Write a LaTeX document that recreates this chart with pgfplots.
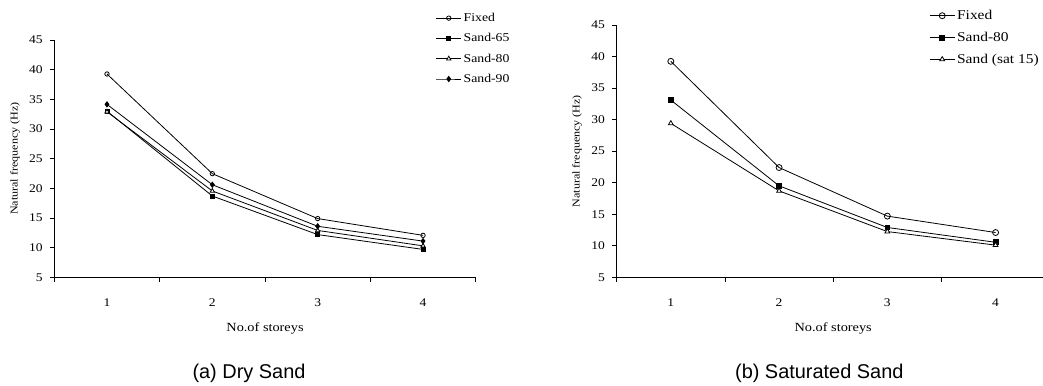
\documentclass[border=0pt]{standalone}
\usepackage{pgfplots}
\pgfplotsset{compat=1.18}
\usepackage{fontspec}
\setmainfont{Liberation Serif}[FakeStretch=1.15]
\newfontfamily\arialf{Liberation Sans}
\pgfplotsset{
  myaxis/.style={
    scale only axis,
    anchor=south west,
    axis lines=left,
    axis line style={-, line width=0.9bp, black},
    xmin=0.5, xmax=4.5, ymin=5, ymax=45,
    xtick={1,2,3,4},
    minor xtick={0.5,1.5,2.5,3.5,4.5},
    ytick={5,10,...,45},
    tick align=outside,
    major tick length=4.5bp,
    minor tick length=4.4bp,
    tick style={black, line width=0.9bp},
    major x tick style={draw=none},
    /pgf/number format/assume math mode=true,
    ticklabel style={font=\fontsize{11.8}{13}\selectfont},
    yticklabel style={inner sep=0pt, xshift=-7bp},
    xticklabel style={inner sep=0pt, yshift=-17bp},
    xlabel={No.of storeys},
    ylabel={Natural frequency (Hz)},
    xlabel style={font=\fontsize{12.5}{14}\selectfont, at={(axis description cs:0.5,0)}, anchor=center, yshift=-50.7bp},
    legend cell align=left,
    every axis plot/.append style={black, line width=0.8bp},
    legend image code/.code={\draw[mark repeat=2,mark phase=2,##1] plot coordinates {(0bp,0bp) (12.5bp,0bp) (25bp,0bp)};},
  }
}
\begin{document}
\begin{tikzpicture}
\useasboundingbox (0,0) rectangle (1043bp,386bp);
\begin{axis}[myaxis,
  at={(54.3bp,108.7bp)}, width=421.4bp, height=237.3bp,
  ylabel style={font=\fontsize{10.5}{12}\selectfont, at={(axis description cs:-0.0933,0.5)}, anchor=center, rotate=0},
  legend style={draw=none, fill=none, at={(axis description cs:0.905,1.122)}, anchor=north west, inner sep=0pt, row sep=6.5bp, font=\fontsize{12}{13}\selectfont, nodes={inner sep=2bp}},
  mark size=2.2bp]
\addplot[mark=o, mark options={fill=white}] coordinates {(1,39.27) (2,22.47) (3,14.9) (4,12.07)};
\addlegendentry{Fixed}
\addplot[mark=square*, mark size=2bp] coordinates {(1,33.0) (2,18.7) (3,12.2) (4,9.7)};
\addlegendentry{Sand-65}
\addplot[mark=triangle*, mark options={fill=white}, mark size=2.5bp] coordinates {(1,32.9) (2,19.55) (3,12.9) (4,10.3)};
\addlegendentry{Sand-80}
\addplot[mark=diamond*, mark size=2.6bp] coordinates {(1,34.15) (2,20.6) (3,13.6) (4,11.1)};
\addlegendentry{Sand-90}
\end{axis}
\begin{axis}[myaxis,
  at={(616.7bp,108.7bp)}, width=433bp, height=252.3bp,
  ylabel style={font=\fontsize{10.5}{12}\selectfont, at={(axis description cs:-0.0917,0.5)}, anchor=center, rotate=0},
  legend style={draw=none, fill=none, at={(axis description cs:0.7215,1.067)}, anchor=north west, inner sep=0pt, row sep=7bp, font=\fontsize{13.5}{15}\selectfont, nodes={inner sep=2bp}},
  mark size=3bp]
\addplot[mark=o, mark options={fill=white}] coordinates {(1,39.24) (2,22.4) (3,14.7) (4,12.1)};
\addlegendentry{Fixed}
\addplot[mark=square*, mark size=2.4bp] coordinates {(1,33.1) (2,19.5) (3,12.9) (4,10.55)};
\addlegendentry{Sand-80}
\addplot[mark=triangle*, mark options={fill=white}, mark size=2.8bp] coordinates {(1,29.4) (2,18.7) (3,12.25) (4,10.1)};
\addlegendentry{Sand (sat 15)}
\end{axis}
\node[font=\arialf\fontsize{20}{24}\selectfont] at (249bp,13bp) {(a) Dry Sand};
\node[font=\arialf\fontsize{20}{24}\selectfont] at (819.3bp,13bp) {(b) Saturated Sand};
\end{tikzpicture}
\end{document}
